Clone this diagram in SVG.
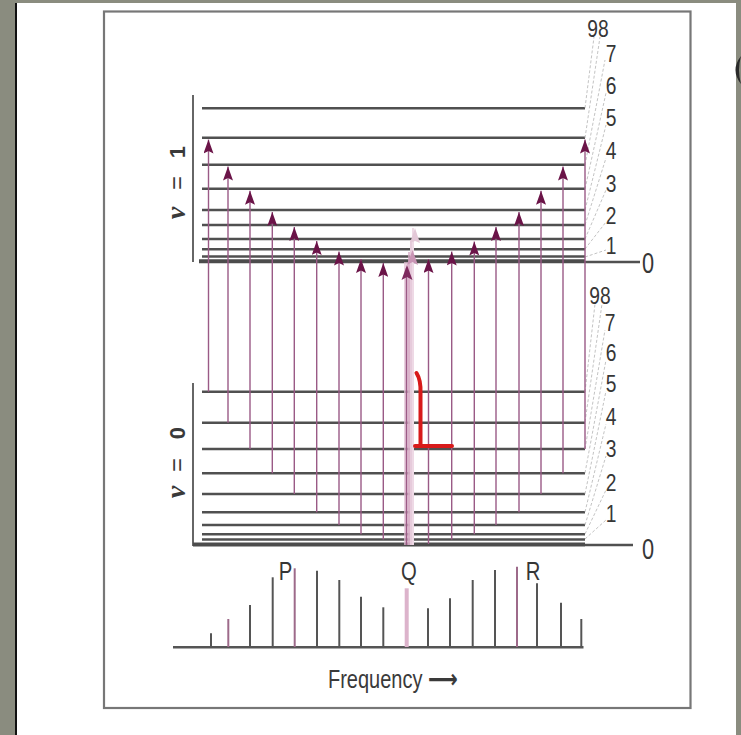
<svg xmlns="http://www.w3.org/2000/svg" width="741" height="735" viewBox="0 0 741 735">
<defs>
<marker id="ah" viewBox="0 0 14 10" refX="14" refY="5" markerWidth="14" markerHeight="10" orient="auto" markerUnits="userSpaceOnUse">
<path d="M0,0 L14,5 L0,10 L2.5,5 Z" fill="#6b1448"/>
</marker>
<style>
.lv{stroke:#505050;stroke-width:2.4;fill:none}
.gd{stroke:#4c4c4c;stroke-width:4;fill:none}
.ar{stroke:#9a5a86;stroke-width:1.4;fill:none;marker-end:url(#ah)}
.ld{stroke:#b4b4b4;stroke-width:0.8;stroke-dasharray:3 2;fill:none}
.dg{font-family:"Liberation Sans Narrow","Liberation Sans",Arial,sans-serif;font-size:24px;fill:#363636;text-anchor:middle}
.sp{stroke:#555;stroke-width:2;fill:none}
.spp{stroke:#9d6a8a;stroke-width:2;fill:none}
</style>
</defs>
<rect x="0" y="0" width="741" height="735" fill="#8a8c7f"/>
<rect x="17" y="3" width="719" height="732" fill="#ffffff"/>
<line x1="16" y1="3" x2="16" y2="735" stroke="#111" stroke-width="2"/>
<path d="M741,56 Q730,70 741,84 Q737,70 741,56 Z" fill="#2a2a2a"/>
<rect x="104" y="11.5" width="586.5" height="696.5" fill="none" stroke="#777" stroke-width="2.2"/>

<g id="brackets">
<line x1="193" y1="95" x2="193" y2="262" stroke="#666" stroke-width="2"/>
<line x1="193" y1="383" x2="193" y2="546" stroke="#666" stroke-width="2"/>
</g>

<g id="levels-v1">
<line class="lv" x1="202" y1="108.3" x2="585" y2="108.3"/>
<line class="lv" x1="202" y1="137.7" x2="585" y2="137.7"/>
<line class="lv" x1="202" y1="164.7" x2="585" y2="164.7"/>
<line class="lv" x1="202" y1="188.7" x2="585" y2="188.7"/>
<line class="lv" x1="202" y1="210" x2="585" y2="210"/>
<line class="lv" x1="202" y1="225" x2="585" y2="225"/>
<line class="lv" x1="202" y1="239" x2="585" y2="239"/>
<line class="lv" x1="202" y1="249.3" x2="585" y2="249.3"/>
<line class="lv" x1="202" y1="256.5" x2="585" y2="256.5"/>
<line class="gd" x1="199" y1="261.3" x2="585" y2="261.3"/>
<line class="lv" x1="585" y1="262" x2="640" y2="262"/>
</g>

<g id="levels-v0">
<line class="lv" x1="202" y1="391.7" x2="585" y2="391.7"/>
<line class="lv" x1="202" y1="422.7" x2="585" y2="422.7"/>
<line class="lv" x1="202" y1="449" x2="585" y2="449"/>
<line class="lv" x1="202" y1="473.3" x2="585" y2="473.3"/>
<line class="lv" x1="202" y1="494" x2="585" y2="494"/>
<line class="lv" x1="202" y1="512.3" x2="585" y2="512.3"/>
<line class="lv" x1="202" y1="525" x2="585" y2="525"/>
<line class="lv" x1="202" y1="534.3" x2="585" y2="534.3"/>
<line class="lv" x1="202" y1="539.5" x2="585" y2="539.5"/>
<line class="gd" x1="193" y1="544.5" x2="585" y2="544.5"/>
<line class="lv" x1="585" y1="545" x2="633" y2="545"/>
</g>

<g id="leaders">
<line class="ld" x1="585" y1="108" x2="594" y2="37"/>
<line class="ld" x1="585" y1="138" x2="600" y2="37"/>
<line class="ld" x1="585" y1="165" x2="605" y2="60"/>
<line class="ld" x1="585" y1="189" x2="606" y2="93"/>
<line class="ld" x1="585" y1="210" x2="606" y2="125"/>
<line class="ld" x1="585" y1="225" x2="606" y2="158"/>
<line class="ld" x1="585" y1="239" x2="606" y2="190"/>
<line class="ld" x1="585" y1="249" x2="606" y2="222"/>
<line class="ld" x1="585" y1="257" x2="606" y2="250"/>
<line class="ld" x1="585" y1="392" x2="595" y2="304"/>
<line class="ld" x1="585" y1="422" x2="602" y2="304"/>
<line class="ld" x1="585" y1="449" x2="605" y2="330"/>
<line class="ld" x1="585" y1="473" x2="606" y2="360"/>
<line class="ld" x1="585" y1="494" x2="606" y2="391"/>
<line class="ld" x1="585" y1="512" x2="606" y2="424"/>
<line class="ld" x1="585" y1="525" x2="606" y2="456"/>
<line class="ld" x1="585" y1="534" x2="606" y2="490"/>
<line class="ld" x1="585" y1="539" x2="606" y2="520"/>
</g>

<g id="labels-v1">
<text class="dg" transform="translate(598,37) scale(0.8,1)">98</text>
<text class="dg" transform="translate(611,62) scale(0.8,1)">7</text>
<text class="dg" transform="translate(611,94) scale(0.8,1)">6</text>
<text class="dg" transform="translate(611,126) scale(0.8,1)">5</text>
<text class="dg" transform="translate(611,159) scale(0.8,1)">4</text>
<text class="dg" transform="translate(611,192) scale(0.8,1)">3</text>
<text class="dg" transform="translate(611,224) scale(0.8,1)">2</text>
<text class="dg" transform="translate(611,254) scale(0.8,1)">1</text>
<text class="dg" style="font-size:29px" transform="translate(648,273) scale(0.75,1)">0</text>
</g>
<g id="labels-v0">
<text class="dg" transform="translate(600,304) scale(0.8,1)">98</text>
<text class="dg" transform="translate(610,331) scale(0.8,1)">7</text>
<text class="dg" transform="translate(611,361) scale(0.8,1)">6</text>
<text class="dg" transform="translate(611,392) scale(0.8,1)">5</text>
<text class="dg" transform="translate(611,425) scale(0.8,1)">4</text>
<text class="dg" transform="translate(611,457) scale(0.8,1)">3</text>
<text class="dg" transform="translate(611,491) scale(0.8,1)">2</text>
<text class="dg" transform="translate(611,522) scale(0.8,1)">1</text>
<text class="dg" style="font-size:29px" transform="translate(648,559) scale(0.75,1)">0</text>
</g>

<g id="label-v1" transform="translate(185,183) rotate(-90)">
<text x="-30" y="0" text-anchor="middle" font-family="Liberation Serif,serif" font-style="italic" font-weight="bold" font-size="28" fill="#3a3a3a">v</text>
<text x="0" y="0" text-anchor="middle" font-family="Liberation Sans,Arial,sans-serif" font-size="24" fill="#3a3a3a">=</text>
<text x="31" y="0" text-anchor="middle" font-family="Liberation Sans,Arial,sans-serif" font-weight="bold" font-size="22" fill="#3a3a3a">1</text>
</g>
<g id="label-v0" transform="translate(185,462) rotate(-90)">
<text x="-30" y="0" text-anchor="middle" font-family="Liberation Serif,serif" font-style="italic" font-weight="bold" font-size="28" fill="#3a3a3a">v</text>
<text x="-3" y="0" text-anchor="middle" font-family="Liberation Sans,Arial,sans-serif" font-size="24" fill="#3a3a3a">=</text>
<text x="29" y="0" text-anchor="middle" font-family="Liberation Sans,Arial,sans-serif" font-weight="bold" font-size="22" fill="#3a3a3a">0</text>
</g>

<g id="connectors">
<g id="P-branch">
<line class="ar" x1="208.5" y1="391.7" x2="208.5" y2="139.5"/>
<line class="ar" x1="228" y1="422.7" x2="228" y2="166.5"/>
<line class="ar" x1="250" y1="449" x2="250" y2="190.7"/>
<line class="ar" x1="272.3" y1="473.3" x2="272.3" y2="212"/>
<line class="ar" x1="294.3" y1="494" x2="294.3" y2="227"/>
<line class="ar" x1="316.7" y1="512.3" x2="316.7" y2="241"/>
<line class="ar" x1="339" y1="525" x2="339" y2="251.5"/>
<line class="ar" x1="361" y1="534.3" x2="361" y2="259"/>
<line class="ar" x1="383.3" y1="539.5" x2="383.3" y2="263"/>
</g>
<g id="Q-branch">
<rect x="404" y="262" width="10" height="283" fill="#e2c0d4" opacity="0.75"/>
<line x1="411" y1="545" x2="411" y2="240" stroke="#e6cbdb" stroke-width="2"/>
<line x1="413" y1="545" x2="413" y2="228" stroke="#eed9e5" stroke-width="2"/>
<line x1="409" y1="545" x2="409" y2="252" stroke="#d7a9c4" stroke-width="1.5"/>
<path d="M415,228 L420,243 L415,241 L410,243 Z" fill="#e3c8d7"/>
<path d="M412.5,250 L418,265 L412.5,262 L407,265 Z" fill="#c995b5"/>
<line x1="406.5" y1="545" x2="406.5" y2="268" stroke="#9d5a86" stroke-width="1.5"/>
<path d="M407,265 L412.5,280 L407,277 L401.5,280 Z" fill="#7e2a5e"/>
</g>
<g id="R-branch">
<line class="ar" x1="428.5" y1="544" x2="428.5" y2="259"/>
<line class="ar" x1="451.7" y1="539.5" x2="451.7" y2="251.5"/>
<line class="ar" x1="474.3" y1="534.3" x2="474.3" y2="241.5"/>
<line class="ar" x1="496" y1="525" x2="496" y2="227"/>
<line class="ar" x1="519" y1="512.3" x2="519" y2="212"/>
<line class="ar" x1="541" y1="494" x2="541" y2="190.7"/>
<line class="ar" x1="563" y1="473.3" x2="563" y2="166.5"/>
<line class="ar" x1="585" y1="449" x2="585" y2="139.5"/>
</g>
</g>

<path d="M416.5,373 Q421,380 420.5,393 L420.5,445 M415,446 L452,446" fill="none" stroke="#d81a1a" stroke-width="4" stroke-linecap="round"/>

<g id="spectrum">
<line x1="173" y1="647.3" x2="583.5" y2="647.3" stroke="#555" stroke-width="2.5"/>
<line class="sp" x1="211" y1="647" x2="211" y2="633.3"/>
<line class="spp" x1="228.3" y1="647" x2="228.3" y2="619"/>
<line class="sp" x1="250" y1="647" x2="250" y2="605"/>
<line class="sp" x1="272.7" y1="647" x2="272.7" y2="577.3"/>
<line class="spp" x1="294.7" y1="647" x2="294.7" y2="568.3"/>
<line class="sp" x1="317" y1="647" x2="317" y2="570.7"/>
<line class="sp" x1="339.3" y1="647" x2="339.3" y2="580"/>
<line class="sp" x1="361" y1="647" x2="361" y2="596.7"/>
<line class="sp" x1="383.3" y1="647" x2="383.3" y2="607.3"/>
<line x1="406.7" y1="647" x2="406.7" y2="588.3" stroke="#dcb3cb" stroke-width="4"/>
<line class="sp" x1="428" y1="647" x2="428" y2="608.3"/>
<line class="sp" x1="450" y1="647" x2="450" y2="598.3"/>
<line class="sp" x1="472.7" y1="647" x2="472.7" y2="580"/>
<line class="sp" x1="495" y1="647" x2="495" y2="570"/>
<line class="spp" x1="517" y1="647" x2="517" y2="566.7"/>
<line class="sp" x1="537" y1="647" x2="537" y2="583.3"/>
<line class="sp" x1="561" y1="647" x2="561" y2="602.7"/>
<line class="sp" x1="581.3" y1="647" x2="581.3" y2="619"/>
</g>
<g id="branch-labels">
<text class="dg" style="font-size:26px" transform="translate(285.5,580) scale(0.78,1)">P</text>
<text class="dg" style="font-size:26px" transform="translate(409,580) scale(0.78,1)">Q</text>
<text class="dg" style="font-size:26px" transform="translate(533,580) scale(0.78,1)">R</text>
</g>
<text transform="translate(328,688) scale(0.8,1)" font-family="Liberation Sans Narrow,Liberation Sans,Arial,sans-serif" font-size="25" fill="#3a3a3a">Frequency <tspan font-family="DejaVu Sans,sans-serif" font-size="26" font-weight="bold">⟶</tspan></text>
</svg>
